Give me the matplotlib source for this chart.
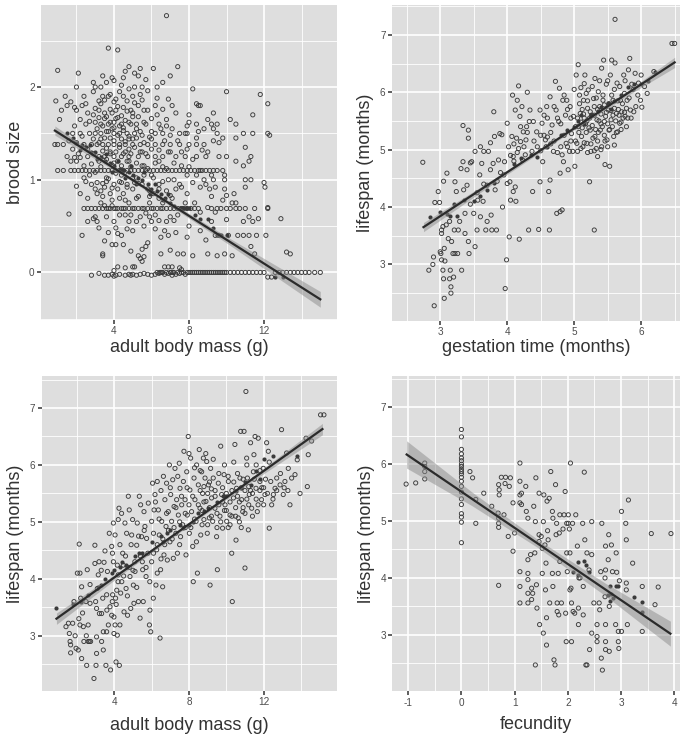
import numpy as np
import matplotlib
matplotlib.use("Agg")
import matplotlib.pyplot as plt

plt.rcParams['font.family'] = ['Liberation Sans', 'DejaVu Sans']

# ---- panel A: brood size vs adult body mass (log scale values) ----
brood_pts = [
    # zero row
    (2.8, -0.03), (3.2, -0.01), (3.5, -0.03), (3.7, -0.03), (3.9, -0.02), (4.0, -0.04), (4.1, -0.03),
    (4.3, -0.02), (4.6, -0.03), (4.8, -0.02), (4.9, -0.03), (5.0, -0.02), (5.2, -0.03), (5.4, -0.02),
    (5.6, -0.01), (5.8, -0.02), (6.0, -0.03), (6.2, -0.02), (6.3, 0.0), (6.4, -0.01), (6.5, 0.0),
    (6.6, 0.0), (6.7, -0.02), (6.8, 0.0), (6.9, -0.01), (7.0, 0.0), (7.1, -0.03), (7.2, 0.0),
    (7.3, -0.02), (7.4, 0.0), (7.5, -0.01), (7.6, 0.0), (7.7, 0.0), (7.8, -0.02), (7.9, 0.0),
    (8.0, 0.0), (8.1, 0.0), (8.2, 0.0), (8.3, 0.0), (8.4, 0.0), (8.5, 0.0), (8.6, 0.0),
    (8.7, 0.0), (8.8, 0.0), (8.9, 0.0), (9.0, 0.0), (9.1, 0.0), (9.2, 0.0), (9.3, 0.0),
    (9.4, 0.0), (9.5, 0.0), (9.6, 0.0), (9.7, 0.0), (9.8, 0.0), (9.9, 0.0), (10.0, 0.0),
    (10.2, 0.0), (10.4, 0.0), (10.6, 0.0), (10.8, 0.0), (11.0, 0.0), (11.2, 0.0), (11.4, 0.0),
    (11.6, 0.0), (11.8, 0.0), (12.0, 0.0), (12.2, -0.05), (12.4, -0.05), (12.6, 0.0), (12.8, 0.0),
    (13.0, 0.0), (13.2, 0.0), (13.4, 0.0), (13.6, 0.0), (13.8, 0.0), (14.0, 0.0), (14.2, 0.0),
    (14.4, 0.0), (14.7, 0.0), (15.0, 0.0), (6.45, 0.0), (6.55, 0.0), (7.05, 0.0), (7.15, 0.0),
    # low values
    (4.6, 0.05), (5.0, 0.06), (5.1, 0.06), (6.7, 0.06), (6.9, 0.06), (7.1, 0.06), (7.5, 0.05),
    (7.6, 0.03), (3.4, 0.18), (3.4, 0.2), (3.9, 0.3), (4.1, 0.3), (3.5, 0.34), (4.2, 0.06),
    (4.0, 0.02), (5.3, 0.18), (5.4, 0.15), (5.5, 0.12), (5.6, 0.17), (2.3, 0.4), (3.7, 0.43),
    (4.2, 0.42), (4.4, 0.4), (4.7, 0.47), (4.5, 0.3), (5.5, 0.25), (5.7, 0.28), (5.8, 0.32),
    (6.5, 0.38), (6.7, 0.45), (6.5, 0.2), (7.0, 0.24), (7.4, 0.2), (7.3, 0.43), (7.7, 0.2),
    (7.9, 0.38), (8.2, 0.18), (9.0, 0.2), (9.5, 0.18), (9.9, 0.2), (10.3, 0.18), (10.1, 0.4),
    (10.6, 0.4), (10.9, 0.4), (11.2, 0.4), (11.6, 0.4), (12.1, 0.4), (11.3, 0.28), (11.5, 0.2),
    (8.9, 0.35), (9.4, 0.4), (9.6, 0.4), (2.9, 0.58), (3.1, 0.55), (2.6, 0.55), (4.0, 0.55),
    (4.8, 0.55), (5.2, 0.55), (5.6, 0.5), (6.0, 0.55), (6.8, 0.55), (7.2, 0.56), (12.9, 0.58),
    (13.2, 0.22), (13.4, 0.2), (1.6, 0.63), (5.0, 0.45), (6.2, 0.47), (4.9, 0.23),
    # row ~0.69
    (2.4, 0.69), (2.6, 0.69), (2.8, 0.69), (3.0, 0.69), (3.2, 0.69), (3.4, 0.69), (3.6, 0.69),
    (3.7, 0.69), (3.8, 0.69), (4.0, 0.69), (4.1, 0.69), (4.2, 0.69), (4.4, 0.69), (4.5, 0.69),
    (4.6, 0.69), (4.8, 0.69), (5.0, 0.69), (5.1, 0.69), (5.3, 0.69), (5.5, 0.69), (5.6, 0.69),
    (5.8, 0.69), (6.0, 0.69), (6.1, 0.69), (6.3, 0.69), (6.5, 0.69), (6.6, 0.69), (6.8, 0.69),
    (7.0, 0.69), (7.2, 0.69), (7.4, 0.69), (7.6, 0.69), (7.7, 0.69), (7.9, 0.69), (8.1, 0.69),
    (8.3, 0.69), (8.5, 0.69), (9.2, 0.69), (9.5, 0.69), (9.7, 0.69), (10.0, 0.69), (10.2, 0.69),
    (10.5, 0.69), (10.7, 0.69), (11.0, 0.69), (11.5, 0.69), (12.2, 0.69),
    (3.0, 0.6), (3.3, 0.75), (3.5, 0.72), (4.3, 0.62), (4.6, 0.78), (5.2, 0.8), (5.7, 0.64),
    (6.2, 0.62), (6.6, 0.75), (7.1, 0.8), (7.8, 0.75), (8.3, 0.75), (8.6, 0.65), (9.0, 0.7),
    (9.4, 0.65), (9.8, 0.78), (10.5, 0.75), (10.9, 0.55), (11.2, 0.6), (11.4, 0.55), (11.7, 0.58),
    (10.0, 0.57), (3.9, 0.78), (4.9, 0.62), (6.4, 0.8), (7.4, 0.62),
    # 0.8 - 1.0
    (2.8, 0.95), (3.0, 0.9), (3.3, 0.88), (3.1, 0.85), (3.5, 0.92), (3.8, 0.85), (4.0, 0.95),
    (4.2, 0.9), (4.5, 0.85), (4.7, 0.95), (5.0, 0.9), (5.3, 0.82), (5.5, 0.95), (5.8, 0.9),
    (6.1, 0.85), (6.4, 0.95), (6.8, 0.88), (7.3, 0.9), (7.6, 0.92), (7.9, 0.85), (8.6, 0.92),
    (9.1, 0.9), (9.4, 0.92), (9.9, 0.9), (10.4, 0.85), (11.0, 0.92), (12.0, 0.97), (12.05, 0.92),
    (8.2, 0.97), (9.2, 0.82), (10.0, 0.83), (10.3, 0.75), (2.0, 0.93), (2.5, 0.98), (3.6, 0.98),
    (4.4, 0.97), (5.1, 0.97), (5.9, 0.82), (6.6, 0.98), (7.0, 0.83), (8.9, 0.95),
    # row ~1.1
    (1.0, 1.1), (1.3, 1.1), (1.7, 1.1), (1.9, 1.1), (2.1, 1.1), (2.3, 1.1), (2.5, 1.1), (2.7, 1.1),
    (2.9, 1.1), (3.1, 1.1), (3.3, 1.1), (3.5, 1.1), (3.7, 1.1), (3.9, 1.1), (4.1, 1.1), (4.3, 1.1),
    (4.5, 1.1), (4.7, 1.1), (4.9, 1.1), (5.1, 1.1), (5.3, 1.1), (5.5, 1.1), (5.7, 1.1), (5.9, 1.1),
    (6.1, 1.1), (6.3, 1.1), (6.5, 1.1), (6.7, 1.1), (6.9, 1.1), (7.1, 1.1), (7.3, 1.1), (7.5, 1.1),
    (7.7, 1.1), (7.9, 1.1), (8.1, 1.1), (8.3, 1.1), (8.5, 1.1), (8.7, 1.1), (8.9, 1.1), (9.1, 1.1),
    (9.3, 1.1), (9.5, 1.1), (9.8, 1.1),
    (2.0, 1.2), (2.4, 1.15), (2.7, 1.05), (3.2, 1.2), (3.6, 1.02), (4.0, 1.18), (4.4, 1.05),
    (4.8, 1.2), (5.2, 1.02), (5.6, 1.15), (6.0, 1.05), (6.4, 1.2), (6.8, 1.12), (7.2, 1.0),
    (7.6, 1.15), (8.0, 1.14), (8.4, 1.05), (8.8, 1.0), (9.3, 1.0), (9.9, 1.0), (10.9, 1.15),
    (11.0, 1.0), (11.3, 1.0), (11.2, 1.2), (11.0, 1.35), (10.5, 1.2), (9.9, 1.05),
    # row ~1.25
    (1.5, 1.25), (1.9, 1.24), (2.2, 1.24), (2.6, 1.25), (3.2, 1.25), (3.5, 1.25), (4.0, 1.25),
    (4.4, 1.25), (4.8, 1.25), (5.3, 1.25), (5.8, 1.25), (6.2, 1.25), (6.6, 1.25), (7.3, 1.25),
    (7.8, 1.25), (8.4, 1.25), (8.9, 1.25), (9.6, 1.25), (2.9, 1.28), (3.8, 1.3), (4.6, 1.3),
    (5.5, 1.3), (6.9, 1.3),
    # row ~1.38
    (0.85, 1.38), (1.3, 1.38), (2.0, 1.4), (2.4, 1.38), (2.8, 1.38), (3.1, 1.38), (3.4, 1.38),
    (3.7, 1.38), (4.0, 1.38), (4.3, 1.38), (4.6, 1.38), (5.0, 1.38), (5.4, 1.38), (5.8, 1.38),
    (6.2, 1.38), (6.6, 1.38), (7.0, 1.38), (7.5, 1.38), (8.0, 1.38), (8.4, 1.38), (8.8, 1.38),
    (9.3, 1.42), (8.7, 1.32), (7.9, 1.33), (3.3, 1.44), (4.8, 1.44), (6.0, 1.44),
    # row ~1.5
    (1.8, 1.5), (2.2, 1.5), (2.7, 1.5), (3.0, 1.5), (3.3, 1.5), (3.6, 1.52), (4.0, 1.5), (4.3, 1.5),
    (4.7, 1.5), (5.1, 1.5), (5.5, 1.48), (6.0, 1.52), (6.6, 1.5), (7.0, 1.48), (7.5, 1.5),
    (7.9, 1.5), (8.5, 1.52), (9.3, 1.55), (9.8, 1.45), (11.4, 1.5), (3.9, 1.55), (4.5, 1.56),
    # row ~1.6
    (2.5, 1.6), (3.0, 1.62), (3.3, 1.6), (3.7, 1.6), (4.0, 1.62), (4.4, 1.6), (4.8, 1.62),
    (5.2, 1.6), (5.6, 1.62), (6.4, 1.6), (6.8, 1.58), (7.9, 1.58), (8.4, 1.6), (9.5, 1.6),
    (10.5, 1.6), (10.2, 1.65), (11.4, 1.7), (3.5, 1.66), (4.2, 1.67), (5.0, 1.68),
    # row ~1.75
    (1.2, 1.75), (1.5, 1.8), (1.9, 1.78), (2.3, 1.8), (2.6, 1.72), (2.9, 1.7), (3.2, 1.75),
    (3.5, 1.72), (3.8, 1.76), (4.1, 1.75), (4.5, 1.78), (4.9, 1.75), (5.3, 1.8), (5.6, 1.75),
    (6.2, 1.8), (6.6, 1.76), (7.1, 1.8), (8.0, 1.7), (8.5, 1.8), (9.2, 1.6), (9.0, 1.65),
    # row ~1.9
    (0.9, 1.85), (1.7, 1.84), (2.4, 1.9), (2.9, 1.95), (3.4, 1.9), (3.8, 1.92), (4.3, 1.95),
    (4.7, 1.85), (5.0, 1.9), (5.4, 1.92), (5.8, 1.96), (6.3, 1.88), (6.9, 1.87), (3.2, 1.85),
    (4.1, 1.87), (2.0, 2.0), (3.6, 2.05), (4.5, 2.1), (5.1, 2.0), (5.5, 2.0),
    # high values and outliers
    (1.0, 2.18), (2.1, 2.15), (3.0, 2.0), (3.4, 2.12), (4.0, 2.07), (4.6, 2.17), (4.8, 2.22),
    (5.1, 2.15), (5.3, 2.12), (5.4, 2.2), (6.1, 2.2), (6.6, 2.05), (7.0, 2.12), (7.4, 2.22),
    (3.7, 2.42), (4.2, 2.4), (6.8, 2.77), (8.2, 1.98), (10.0, 1.95), (11.8, 1.92), (12.2, 1.82),
    (12.2, 1.5), (12.3, 1.48), (8.4, 1.82), (8.6, 1.8), (9.3, 1.72), (10.9, 1.5), (9.6, 1.4),
    (10.0, 1.25), (11.3, 1.25), (10.5, 1.45), (12.2, 0.7), (1.0, 1.38),
]
# scattered values between the rows (dense core of the cloud)
brood_pts_more = [
    (1.6, 1.42), (1.8, 1.33), (1.9, 1.58), (2.1, 1.28), (2.2, 1.65), (2.3, 1.47), (2.4, 1.02),
    (2.5, 1.82), (2.6, 1.33), (2.7, 1.63), (2.8, 1.17), (2.9, 1.44), (3.0, 1.77), (3.0, 1.08),
    (3.1, 1.55), (3.1, 0.97), (3.2, 1.4), (3.2, 1.67), (3.3, 1.14), (3.3, 1.82), (3.4, 1.31),
    (3.4, 1.58), (3.4, 0.96), (3.5, 1.45), (3.5, 1.86), (3.6, 1.22), (3.6, 1.68), (3.6, 1.34),
    (3.7, 1.01), (3.7, 1.52), (3.7, 1.9), (3.8, 1.28), (3.8, 1.62), (3.8, 1.45), (3.9, 1.16),
    (3.9, 1.72), (3.9, 0.91), (4.0, 1.42), (4.0, 1.56), (4.0, 1.84), (4.1, 1.3), (4.1, 1.07),
    (4.1, 1.66), (4.2, 1.48), (4.2, 1.2), (4.2, 1.79), (4.3, 1.35), (4.3, 1.58), (4.3, 0.98),
    (4.4, 1.69), (4.4, 1.44), (4.4, 1.15), (4.5, 1.9), (4.5, 1.28), (4.5, 1.53), (4.6, 1.08),
    (4.6, 1.64), (4.6, 1.41), (4.7, 1.2), (4.7, 1.74), (4.7, 0.92), (4.8, 1.47), (4.8, 1.33),
    (4.8, 1.98), (4.9, 1.6), (4.9, 1.14), (4.9, 1.28), (5.0, 1.72), (5.0, 1.44), (5.0, 1.02),
    (5.1, 1.35), (5.1, 1.83), (5.2, 1.18), (5.2, 1.55), (5.2, 1.45), (5.3, 1.68), (5.3, 0.96),
    (5.4, 1.3), (5.4, 1.52), (5.5, 1.15), (5.5, 1.86), (5.6, 1.4), (5.6, 1.05), (5.7, 1.6),
    (5.7, 1.28), (5.8, 1.75), (5.8, 1.12), (5.9, 1.46), (5.9, 0.88), (6.0, 1.33), (6.0, 1.66),
    (6.1, 1.02), (6.2, 1.5), (6.2, 1.18), (6.3, 1.7), (6.4, 1.32), (6.4, 0.9), (6.5, 1.55),
    (6.6, 1.14), (6.7, 1.42), (6.8, 1.65), (6.9, 1.0), (7.0, 1.3), (7.1, 1.55), (7.2, 1.18),
    (7.3, 1.72), (7.4, 1.42), (7.5, 0.95), (7.6, 1.3), (7.8, 1.5), (7.9, 1.05), (8.0, 1.62),
    (8.2, 1.22), (8.4, 1.45), (8.6, 1.1), (8.8, 1.55), (9.0, 1.3), (9.2, 1.05), (9.5, 1.5),
    (2.0, 1.75), (1.4, 1.9), (1.1, 1.65), (1.7, 1.2), (2.9, 2.05), (3.3, 2.0), (3.9, 2.1),
    (4.4, 2.02), (5.7, 2.08), (6.3, 2.0), (2.2, 0.85), (2.6, 0.8), (3.4, 0.82), (3.9, 0.72),
    (4.3, 0.8), (4.8, 0.75), (5.4, 0.6), (5.9, 0.75), (6.4, 0.56), (7.0, 0.6), (3.2, 0.48),
    (3.6, 0.6), (4.1, 0.48), (4.6, 0.62), (5.9, 0.6), (6.9, 0.4), (8.0, 0.5), (8.6, 0.45),
    (9.2, 0.55),
]
brood_dark = [
    (1.5, 1.5), (2.0, 1.4), (2.3, 1.38), (2.5, 1.35), (2.8, 1.3), (3.0, 1.3), (3.3, 1.25),
    (3.5, 1.2), (3.8, 1.18), (4.0, 1.15), (4.3, 1.12), (4.5, 1.1), (4.8, 1.08), (5.0, 1.05),
    (5.3, 1.02), (5.5, 1.0), (5.8, 0.95), (6.0, 0.9), (6.3, 0.88), (6.5, 0.85), (6.7, 0.8),
    (7.0, 0.75), (7.5, 0.69), (7.6, 0.69), (7.7, 0.69), (7.8, 0.69), (7.9, 0.69), (8.0, 0.7),
    (9.0, 0.58), (9.5, 0.4), (9.7, 0.4), (10.0, 0.4), (12.6, -0.05), (13.0, -0.05),
    (1.8, 1.45), (2.2, 1.32), (2.7, 1.38), (3.1, 1.22), (3.6, 1.28), (3.9, 1.08), (4.2, 1.2),
    (4.6, 1.02), (4.9, 1.15), (5.2, 0.95), (5.6, 1.08), (5.9, 0.85), (6.2, 0.95), (6.6, 0.78),
    (6.9, 0.85), (7.2, 0.72), (8.3, 0.62), (8.6, 0.58), (9.3, 0.48),
]
brood_fit_x = [0.85, 15.0]
brood_fit_y = [1.53, -0.29]
brood_ci_x = [0.85, 4.0, 6.5, 10.0, 15.0]
brood_ci_half = [0.05, 0.022, 0.02, 0.035, 0.085]

# ---- panel B: lifespan vs gestation time ----
gest_pts = [
    (2.74, 4.78), (2.83, 2.9), (2.89, 3.0), (2.9, 3.13), (2.91, 2.28), (2.92, 4.08), (2.97, 4.27),
    (2.99, 4.08), (3.0, 3.22), (3.01, 3.19), (3.02, 3.08), (3.02, 3.54), (3.02, 3.6), (3.04, 3.66),
    (3.05, 4.45), (3.04, 2.9), (3.05, 2.75), (3.06, 2.41), (3.06, 3.28), (3.07, 3.06), (3.09, 3.69),
    (3.1, 4.59), (3.12, 3.45), (3.14, 3.75), (3.15, 2.9), (3.14, 2.75), (3.16, 2.61), (3.16, 2.5),
    (3.17, 3.4), (3.19, 3.19), (3.2, 2.78), (3.21, 3.6), (3.22, 3.19), (3.22, 4.44), (3.24, 4.27),
    (3.26, 3.19), (3.27, 3.6), (3.29, 3.75), (3.32, 2.9), (3.31, 4.67), (3.34, 5.42), (3.34, 4.79),
    (3.37, 3.89), (3.37, 3.54), (3.4, 4.38), (3.4, 4.65), (3.42, 5.34), (3.42, 5.2), (3.42, 3.4),
    (3.43, 3.19), (3.45, 4.77), (3.47, 4.79), (3.5, 3.89), (3.52, 4.97), (3.52, 3.31), (3.55, 3.6),
    (3.56, 4.12), (3.59, 4.56), (3.6, 3.83), (3.6, 5.05), (3.62, 4.76), (3.64, 4.1), (3.65, 4.97),
    (3.68, 3.6), (3.7, 3.75), (3.7, 4.38), (3.72, 4.97), (3.75, 5.12), (3.76, 3.86), (3.77, 3.6),
    (3.79, 4.76), (3.8, 5.66), (3.81, 5.23), (3.82, 4.3), (3.84, 3.6), (3.87, 4.82), (3.89, 5.28),
    (3.92, 5.26), (3.93, 4.0), (3.95, 4.56), (3.96, 4.79), (3.97, 2.58), (3.99, 3.08), (4.0, 5.46),
    (4.0, 4.41), (4.02, 5.05), (4.03, 3.48), (4.04, 4.44), (4.05, 4.12), (4.07, 5.23), (4.08, 5.95),
    (4.09, 4.88), (4.09, 4.27), (4.12, 5.69), (4.12, 4.35), (4.13, 4.1), (4.14, 5.2), (4.15, 5.86),
    (4.17, 6.11), (4.17, 5.02), (4.18, 3.44), (4.19, 5.58), (4.2, 5.14), (4.22, 5.75), (4.23, 4.82),
    (4.24, 5.31), (4.27, 4.91), (4.28, 5.17), (4.29, 5.4), (4.3, 6.0), (4.32, 3.6), (4.33, 5.49),
    (4.34, 5.69), (4.37, 4.97), (4.38, 4.27), (4.39, 5.49), (4.44, 5.31), (4.47, 3.61), (4.49, 4.44),
    (4.49, 5.69), (4.52, 5.46), (4.53, 4.79), (4.55, 5.6), (4.57, 5.17), (4.58, 5.05), (4.59, 5.75),
    (4.62, 4.27), (4.63, 3.6), (4.64, 4.47), (4.64, 5.92), (4.67, 5.43), (4.69, 4.97), (4.72, 6.19),
    (4.73, 5.69), (4.74, 3.89), (4.77, 5.49), (4.78, 6.07), (4.79, 4.59), (4.79, 3.92), (4.82, 3.95),
    (4.82, 4.91), (4.83, 5.86), (4.84, 4.79), (4.87, 5.6), (4.88, 5.11), (4.89, 5.86), (4.91, 4.65),
    (4.93, 4.97), (4.94, 5.75), (4.96, 5.28), (4.98, 4.97), (4.99, 5.58), (5.01, 4.71), (5.03, 6.3),
    (5.04, 5.11), (5.05, 4.97), (5.06, 6.48), (5.06, 5.4), (5.08, 5.8), (5.09, 5.63), (5.1, 6.08),
    (5.11, 5.23), (5.13, 5.05), (5.14, 5.86), (5.15, 5.55), (5.16, 6.3), (5.18, 5.98), (5.19, 5.11),
    (5.2, 5.72), (5.21, 6.04), (5.23, 4.44), (5.24, 5.34), (5.25, 4.97), (5.26, 5.6), (5.29, 5.89),
    (5.3, 3.6), (5.31, 6.24), (5.31, 5.23), (5.33, 5.02), (5.34, 5.52), (5.35, 4.88), (5.36, 6.01),
    (5.38, 5.75), (5.39, 5.34), (5.41, 6.42), (5.41, 5.05), (5.43, 5.86), (5.44, 6.56), (5.45, 5.49),
    (5.46, 4.74), (5.48, 6.14), (5.49, 5.17), (5.51, 5.69), (5.52, 5.34), (5.53, 4.71), (5.54, 6.3),
    (5.55, 5.52), (5.56, 6.56), (5.58, 5.86), (5.59, 5.23), (5.61, 7.27), (5.61, 6.51), (5.63, 5.63),
    (5.64, 6.16), (5.65, 5.31), (5.68, 5.46), (5.69, 5.86), (5.71, 5.66), (5.74, 6.3), (5.75, 5.98),
    (5.76, 5.58), (5.79, 5.86), (5.81, 6.39), (5.83, 6.59), (5.84, 5.69), (5.86, 6.14), (5.89, 5.66),
    (5.91, 6.33), (5.96, 6.16), (5.99, 5.86), (6.01, 5.74), (6.09, 5.98), (6.19, 6.36), (6.46, 6.85),
    (6.5, 6.85),
    (5.02, 5.4), (5.05, 5.55), (5.07, 5.3), (5.1, 5.48), (5.12, 5.38), (5.14, 5.62), (5.17, 5.45),
    (5.19, 5.5), (5.22, 5.38), (5.24, 5.66), (5.27, 5.42), (5.3, 5.6), (5.32, 5.35), (5.35, 5.7),
    (5.37, 5.5), (5.4, 5.62), (5.42, 5.4), (5.45, 5.78), (5.47, 5.58), (5.5, 5.45), (5.52, 5.8),
    (5.55, 5.68), (5.57, 5.4), (5.6, 5.72), (5.62, 5.5), (5.65, 5.85), (5.67, 5.6), (5.7, 5.48),
    (5.72, 5.8), (5.75, 5.65), (5.78, 5.72), (5.8, 5.55), (5.15, 5.12), (5.25, 5.1), (5.35, 5.15),
    (5.45, 5.25), (5.2, 4.95), (5.3, 4.98), (5.4, 5.0), (5.5, 5.05), (5.6, 5.08), (5.1, 5.02),
    (4.95, 5.15), (4.9, 5.05), (4.85, 5.25), (4.8, 5.05), (4.7, 5.15), (4.75, 4.95), (4.6, 5.22),
    (4.65, 5.3), (4.55, 5.25), (4.4, 5.15), (4.45, 5.05), (4.5, 4.98), (4.25, 5.05), (4.15, 4.95),
    (4.1, 4.8), (4.05, 4.9),
]
gest_pts_more = [
    (4.95, 5.55), (5.0, 6.05), (5.02, 5.15), (5.08, 5.95), (5.12, 5.7), (5.15, 6.15), (5.18, 5.3),
    (5.2, 5.85), (5.23, 5.55), (5.27, 6.1), (5.28, 5.2), (5.3, 5.75), (5.33, 5.9), (5.36, 5.3),
    (5.38, 6.2), (5.4, 5.45), (5.43, 5.95), (5.46, 5.15), (5.48, 5.65), (5.5, 6.2), (5.53, 5.35),
    (5.56, 5.95), (5.58, 5.6), (5.6, 6.05), (5.63, 5.3), (5.66, 5.7), (5.68, 6.1), (5.7, 5.35),
    (5.73, 5.55), (5.76, 6.2), (5.78, 5.4), (5.82, 5.9), (5.85, 5.55), (5.88, 6.05), (5.92, 5.75),
    (5.95, 5.95), (6.0, 6.3), (6.05, 6.1), (4.7, 5.75), (4.75, 5.55), (4.8, 5.45), (4.85, 5.95),
    (4.9, 5.7), (4.6, 5.55), (4.65, 5.1), (4.5, 5.25), (4.3, 5.3), (4.2, 5.4), (4.1, 5.1),
    (3.9, 4.6), (3.85, 4.45), (3.75, 4.65), (3.65, 4.4), (3.55, 4.25), (3.45, 4.05), (3.35, 4.3),
]
gest_dark = [
    (2.85, 3.82), (3.0, 3.92), (3.1, 3.88), (3.15, 3.85), (3.25, 3.85), (3.2, 4.05), (3.35, 4.12),
    (3.5, 4.1), (3.6, 4.2), (3.7, 4.3), (3.8, 4.42), (4.1, 4.75), (4.2, 4.85), (4.35, 4.9),
    (4.45, 4.88), (4.6, 5.05), (4.8, 5.25), (4.9, 5.35), (5.0, 5.4), (5.05, 5.5), (5.1, 5.6),
    (5.15, 5.45), (5.25, 5.6), (5.35, 5.68), (5.4, 5.75), (5.5, 5.82), (5.55, 5.7), (5.6, 5.85),
    (5.7, 5.95), (5.8, 6.1), (5.9, 6.15), (6.0, 6.15), (6.1, 6.2), (6.2, 6.35),
]
gest_fit_x = [2.75, 6.5]
gest_fit_y = [3.65, 6.52]
gest_ci_x = [2.75, 3.8, 4.9, 5.8, 6.5]
gest_ci_half = [0.08, 0.04, 0.025, 0.04, 0.09]

# ---- panel C: lifespan vs adult body mass ----
mass_pts = [
    (1.41, 3.16), (1.54, 3.22), (1.59, 3.04), (1.63, 2.9), (1.66, 2.84), (1.66, 2.7), (1.77, 3.22),
    (1.84, 3.6), (1.95, 2.78), (2.02, 4.1), (2.07, 2.75), (2.12, 4.61), (2.16, 4.1), (2.16, 3.19),
    (2.2, 3.66), (2.25, 3.86), (2.25, 2.6), (2.34, 3.16), (2.37, 2.9), (2.48, 3.6), (2.52, 2.48),
    (2.55, 4.16), (2.6, 2.9), (2.6, 3.19), (2.66, 2.9), (2.7, 3.57), (2.73, 2.9), (2.91, 2.25),
    (2.96, 4.59), (2.96, 4.27), (3.02, 2.48), (3.05, 2.98), (3.05, 3.48), (3.05, 2.69), (3.09, 3.83),
    (3.14, 4.07), (3.18, 4.3), (3.2, 3.39), (3.32, 2.9), (3.32, 3.39), (3.38, 3.66), (3.41, 2.75),
    (3.41, 3.07), (3.45, 4.29), (3.5, 4.49), (3.55, 2.48), (3.59, 3.72), (3.59, 3.07), (3.63, 4.13),
    (3.68, 3.19), (3.73, 4.8), (3.77, 3.51), (3.8, 2.4), (3.86, 4.57), (3.86, 3.36), (3.89, 3.6),
    (3.91, 3.72), (3.95, 4.98), (3.95, 4.3), (3.98, 3.33), (3.98, 3.04), (4.04, 4.77), (4.04, 3.19),
    (4.07, 3.66), (4.09, 2.54), (4.13, 3.8), (4.16, 3.01), (4.16, 4.24), (4.21, 4.07), (4.21, 5.04),
    (4.25, 5.24), (4.27, 2.48), (4.3, 3.19), (4.34, 3.75), (4.39, 5.15), (4.45, 4.45), (4.48, 4.24),
    (4.52, 3.42), (4.57, 4.98), (4.63, 3.83), (4.66, 4.8), (4.71, 3.36), (4.75, 5.45), (4.8, 5.21),
    (4.84, 4.04), (4.88, 3.48), (4.93, 4.77), (4.98, 5.04), (5.02, 3.89), (5.05, 3.57), (5.11, 4.13),
    (5.2, 4.59), (5.23, 4.98), (5.29, 3.6), (5.34, 5.45), (5.38, 3.31), (5.41, 5.3), (5.46, 4.74),
    (5.52, 4.16), (5.55, 3.6), (5.59, 5.18), (5.64, 4.92), (5.7, 4.04), (5.73, 4.71), (5.82, 5.33),
    (5.88, 3.19), (5.91, 3.45), (5.95, 3.07), (6.0, 5.01), (6.05, 5.68), (6.09, 3.66), (6.13, 5.21),
    (6.18, 5.48), (6.23, 3.89), (6.27, 4.51), (6.3, 5.71), (6.36, 5.21), (6.41, 4.77), (6.45, 2.96),
    (6.48, 4.16), (6.54, 5.01), (6.59, 3.86), (6.63, 5.8), (6.66, 4.42), (6.71, 5.39), (6.77, 4.92),
    (6.8, 5.68), (6.84, 4.33), (6.89, 5.18), (6.95, 6.0), (6.98, 4.65), (7.02, 5.48), (7.07, 5.01),
    (7.13, 5.74), (7.16, 4.36), (7.2, 5.27), (7.25, 5.94), (7.3, 4.8), (7.34, 5.39), (7.38, 4.45),
    (7.43, 5.12), (7.48, 6.03), (7.52, 5.59), (7.55, 4.74), (7.61, 5.3), (7.66, 4.95), (7.7, 5.71),
    (7.73, 6.24), (7.79, 5.39), (7.84, 4.42), (7.88, 5.88), (7.91, 5.12), (7.96, 6.5), (8.02, 4.8),
    (8.05, 5.56), (8.09, 6.12), (8.14, 5.18), (8.2, 4.57), (8.23, 3.95), (8.27, 5.77), (8.32, 5.39),
    (8.38, 5.01), (8.41, 6.0), (8.45, 4.1), (8.5, 5.65), (8.55, 6.27), (8.59, 5.24), (8.63, 4.77),
    (8.68, 5.88), (8.73, 5.5), (8.77, 6.12), (8.8, 5.04), (8.86, 5.77), (8.91, 5.36), (8.95, 6.06),
    (8.98, 4.8), (9.04, 5.65), (9.09, 5.07), (9.13, 3.89), (9.16, 5.94), (9.21, 5.42), (9.27, 5.01),
    (9.3, 5.77), (9.39, 5.24), (9.48, 4.74), (9.52, 4.16), (9.57, 5.68), (9.66, 5.1), (9.7, 6.33),
    (9.75, 5.48), (9.8, 4.89), (9.88, 5.83), (9.93, 5.3), (10.02, 5.01), (10.11, 5.71), (10.2, 5.12),
    (10.29, 4.45), (10.32, 3.6), (10.38, 5.42), (10.46, 6.36), (10.52, 4.68), (10.55, 5.59),
    (10.64, 5.07), (10.73, 5.77), (10.77, 6.59), (10.82, 5.39), (10.88, 5.18), (10.95, 6.59),
    (11.0, 4.19), (11.05, 7.29), (11.09, 6.12), (11.13, 5.77), (11.18, 4.86), (11.23, 5.48),
    (11.3, 6.39), (11.36, 5.24), (11.45, 5.88), (11.48, 6.18), (11.54, 6.5), (11.59, 5.59),
    (11.66, 5.18), (11.71, 6.47), (11.8, 5.71), (11.89, 5.39), (11.98, 5.94), (12.07, 5.48),
    (12.16, 6.39), (12.25, 6.24), (12.3, 4.89), (12.38, 5.71), (12.43, 5.3), (12.52, 5.48),
    (12.61, 5.59), (12.7, 5.77), (12.88, 5.65), (12.96, 6.62), (13.05, 5.48), (13.14, 5.71),
    (13.23, 6.21), (13.32, 5.94), (13.41, 5.3), (13.5, 5.77), (13.68, 5.83), (13.8, 6.09),
    (13.95, 5.5), (14.27, 6.47), (14.34, 5.62), (14.39, 6.18), (14.57, 6.42), (15.05, 6.88),
    (15.23, 6.88),
    (8.6, 5.55), (8.8, 5.62), (9.0, 5.5), (9.2, 5.58), (9.4, 5.45), (9.6, 5.3), (9.8, 5.6),
    (10.0, 5.5), (10.2, 5.35), (10.4, 5.7), (10.6, 5.45), (10.8, 5.6), (11.0, 5.55), (11.2, 5.62),
    (11.4, 5.5), (11.6, 5.4), (11.8, 5.55), (12.0, 5.6), (11.1, 5.4), (10.9, 5.25), (10.7, 5.0),
    (10.5, 5.25), (10.3, 5.1), (10.1, 4.9), (9.9, 5.2), (9.5, 5.15), (9.1, 5.25), (8.7, 5.2),
    (8.3, 5.05), (8.0, 5.3), (7.8, 5.15), (7.5, 5.0), (7.2, 4.9), (6.9, 4.85), (6.6, 4.7),
    (6.3, 4.6), (6.0, 4.3), (5.7, 4.2), (5.4, 4.4), (5.1, 4.3), (4.8, 4.2), (4.5, 4.05), (4.2, 3.95),
]
mass_pts_more = [
    (6.1, 4.8), (6.2, 5.35), (6.4, 5.05), (6.5, 5.55), (6.7, 4.6), (6.8, 5.15), (7.0, 5.6),
    (7.1, 4.7), (7.3, 5.25), (7.4, 5.8), (7.5, 4.6), (7.6, 5.45), (7.8, 4.9), (7.9, 5.6),
    (8.0, 6.2), (8.1, 4.9), (8.2, 5.45), (8.3, 5.95), (8.4, 4.65), (8.5, 5.3), (8.6, 5.9),
    (8.7, 4.95), (8.8, 5.35), (8.9, 6.2), (9.0, 4.95), (9.1, 5.7), (9.2, 5.1), (9.3, 6.1),
    (9.4, 5.55), (9.5, 4.9), (9.6, 5.85), (9.7, 5.0), (9.8, 5.35), (9.9, 6.0), (10.0, 5.2),
    (10.1, 5.8), (10.2, 4.95), (10.3, 5.55), (10.4, 6.05), (10.5, 5.1), (10.6, 5.85), (10.7, 5.35),
    (10.8, 4.9), (10.9, 5.75), (11.0, 5.15), (11.1, 6.0), (11.2, 5.3), (11.3, 5.55), (11.4, 5.1),
    (11.5, 5.75), (11.6, 6.0), (11.7, 5.3), (11.8, 5.9), (11.9, 5.6), (12.0, 5.3), (12.1, 5.75),
    (12.2, 5.5), (12.3, 6.05), (12.5, 5.4), (12.7, 5.55), (12.9, 5.85), (13.1, 5.6), (13.3, 5.55),
    (3.0, 3.6), (3.3, 4.15), (3.6, 3.45), (3.9, 4.45), (4.1, 3.55), (4.3, 4.6), (4.4, 3.95),
    (4.6, 4.4), (4.7, 3.7), (4.9, 4.6), (5.0, 4.15), (5.2, 3.85), (5.3, 4.75), (5.5, 4.3),
    (5.6, 4.85), (5.8, 4.45), (5.9, 3.95), (6.1, 4.45), (6.3, 4.1), (6.5, 4.35), (2.3, 3.4),
    (2.7, 3.9), (2.1, 3.3), (1.9, 3.0), (2.5, 3.0),
]
mass_dark = [
    (0.88, 3.48), (1.8, 3.55), (2.2, 3.6), (2.6, 3.72), (3.1, 3.85), (3.3, 3.9), (3.5, 4.0),
    (3.9, 4.1), (4.3, 4.2), (4.6, 4.25), (4.7, 4.2), (5.1, 4.4), (5.5, 4.45), (6.0, 4.65),
    (6.5, 4.75), (6.6, 4.65), (7.0, 4.85), (7.5, 4.95), (8.0, 4.95), (8.2, 5.0), (8.5, 5.15),
    (9.0, 5.25), (9.5, 5.35), (10.0, 5.45), (10.5, 5.55), (11.0, 5.7), (11.3, 5.65), (11.6, 5.9),
    (12.0, 6.1), (12.5, 6.15), (13.8, 6.15), (4.0, 4.15), (4.4, 4.3), (5.3, 4.45), (6.8, 4.8),
    (7.7, 4.9), (8.8, 5.2), (9.8, 5.45), (10.8, 5.6), (11.8, 5.75),
]
mass_fit_x = [0.9, 15.15]
mass_fit_y = [3.3, 6.63]
mass_ci_x = [0.9, 4.5, 8.0, 11.5, 15.15]
mass_ci_half = [0.1, 0.04, 0.025, 0.04, 0.1]

# ---- panel D: lifespan vs fecundity ----
fec_pts = [
    (-1.04, 5.65), (-0.86, 5.67), (-0.69, 6.02), (-0.69, 5.96), (-0.69, 5.87), (-0.69, 5.74),
    (0.0, 6.61), (0.0, 6.48), (0.0, 6.26), (0.0, 6.18), (0.0, 6.11), (0.0, 6.06), (0.0, 6.0),
    (0.0, 5.96), (0.0, 5.91), (0.0, 5.87), (0.0, 5.83), (0.0, 5.77), (0.0, 5.7), (0.0, 5.61),
    (0.0, 5.51), (0.0, 5.39), (0.0, 5.29), (0.0, 5.13), (0.0, 5.07), (0.0, 4.98), (0.0, 4.62),
    (0.16, 5.87), (0.21, 5.76), (0.27, 5.38), (0.27, 4.96), (0.42, 5.49), (0.57, 5.26), (0.69, 5.14),
    (0.7, 5.05), (0.7, 4.96), (0.7, 4.89), (0.7, 5.64), (0.71, 5.55), (0.71, 5.46), (0.7, 3.87),
    (0.75, 5.77), (0.8, 5.11), (0.82, 5.66), (0.83, 5.77), (0.88, 4.73), (0.9, 5.61), (0.92, 5.76),
    (0.97, 5.32), (0.97, 4.47), (1.0, 4.79), (1.1, 6.02), (1.1, 5.7), (1.1, 5.46), (1.1, 5.32),
    (1.1, 4.11), (1.1, 3.85), (1.1, 3.56), (1.13, 5.49), (1.13, 5.29), (1.21, 5.61), (1.22, 5.17),
    (1.25, 5.05), (1.25, 4.32), (1.25, 4.08), (1.25, 3.97), (1.25, 3.73), (1.25, 3.56), (1.3, 4.41),
    (1.32, 3.82), (1.32, 3.62), (1.34, 3.73), (1.36, 5.26), (1.38, 4.44), (1.39, 4.99), (1.39, 2.47),
    (1.4, 5.76), (1.41, 3.88), (1.42, 3.47), (1.46, 4.76), (1.46, 5.49), (1.46, 4.64), (1.47, 3.18),
    (1.5, 4.73), (1.52, 4.52), (1.52, 4.08), (1.54, 4.99), (1.54, 3.03), (1.55, 5.46), (1.57, 4.58),
    (1.58, 3.79), (1.59, 4.26), (1.6, 3.3), (1.6, 2.82), (1.61, 5.35), (1.62, 4.83), (1.63, 4.67),
    (1.65, 5.4), (1.66, 3.56), (1.68, 5.87), (1.71, 5.17), (1.71, 4.08), (1.72, 5.05), (1.72, 3.85),
    (1.74, 2.56), (1.76, 2.47), (1.77, 5.64), (1.78, 4.76), (1.79, 4.96), (1.8, 3.56), (1.8, 3.41),
    (1.82, 4.08), (1.83, 3.35), (1.84, 4.79), (1.85, 5.11), (1.85, 4.29), (1.88, 3.56), (1.91, 4.86),
    (1.93, 5.11), (1.95, 5.52), (1.96, 3.38), (1.97, 2.88), (1.98, 4.96), (1.98, 4.44), (1.99, 4.11),
    (2.01, 5.11), (2.01, 4.96), (2.03, 4.86), (2.04, 4.44), (2.04, 3.79), (2.05, 6.02), (2.06, 3.82),
    (2.07, 3.56), (2.07, 2.88), (2.09, 4.96), (2.1, 3.41), (2.13, 3.38), (2.15, 5.11), (2.18, 4.56),
    (2.2, 3.47), (2.2, 3.18), (2.21, 4.0), (2.23, 4.0), (2.28, 4.96), (2.29, 3.85), (2.29, 3.35),
    (2.31, 5.86), (2.32, 4.67), (2.34, 2.47), (2.36, 2.47), (2.36, 4.44), (2.4, 4.14), (2.41, 2.74),
    (2.45, 4.99), (2.45, 4.41), (2.45, 3.03), (2.49, 3.56), (2.55, 3.18), (2.55, 2.88), (2.55, 2.97),
    (2.59, 3.56), (2.6, 3.44), (2.62, 4.11), (2.63, 2.59), (2.65, 2.38), (2.64, 4.96), (2.7, 3.67),
    (2.7, 4.0), (2.71, 4.14), (2.71, 4.56), (2.71, 2.88), (2.71, 3.18), (2.71, 2.74), (2.76, 4.32),
    (2.77, 4.76), (2.78, 2.71), (2.78, 3.5), (2.82, 4.58), (2.84, 4.11), (2.9, 3.18), (2.91, 4.44),
    (2.92, 4.1), (2.95, 2.88), (2.95, 3.06), (2.96, 2.76), (2.97, 3.95), (3.01, 3.06), (3.01, 5.17),
    (3.09, 4.96), (3.1, 3.79), (3.1, 3.91), (3.1, 4.67), (3.12, 3.18), (3.14, 5.37), (3.22, 4.26),
    (3.4, 3.85), (3.4, 3.06), (3.57, 4.78), (3.64, 3.53), (3.7, 3.84), (3.94, 4.78),
]
fec_dark = [
    (2.1, 4.1), (2.2, 4.28), (2.2, 4.05), (2.3, 4.3), (2.35, 4.22), (2.4, 4.1), (2.75, 3.7),
    (2.8, 3.85), (2.8, 3.6), (2.82, 3.72), (2.85, 3.65), (2.9, 3.85), (2.95, 3.85), (3.25, 3.67),
    (3.4, 3.58), (3.4, 3.4),
]
fec_fit_x = [-1.03, 3.93]
fec_fit_y = [6.17, 3.02]
fec_ci_x = [-1.03, 0.2, 1.45, 2.7, 3.93]
fec_ci_half = [0.24, 0.12, 0.07, 0.11, 0.22]

panels = [
    dict(pts=brood_pts + brood_pts_more, dark=brood_dark, fx=brood_fit_x, fy=brood_fit_y,
         cx=brood_ci_x, ch=brood_ci_half,
         xlabel='adult body mass (g)', ylabel='brood size', box=(41, 5, 337, 320),
         xlim=(0.11, 15.89), ylim=(-0.513, 2.885),
         xmaj=[4, 8, 12], xmin=[2, 6, 10, 14], ymaj=[0, 1, 2], ymin=[-0.5, 0.5, 1.5, 2.5], xlab_off=28),
    dict(pts=gest_pts + gest_pts_more, dark=gest_dark, fx=gest_fit_x, fy=gest_fit_y,
         cx=gest_ci_x, ch=gest_ci_half,
         xlabel='gestation time (months)', ylabel='lifespan (months)', box=(392, 5, 680, 320.7),
         xlim=(2.28, 6.58), ylim=(2.02, 7.52),
         xmaj=[3, 4, 5, 6], xmin=[2.5, 3.5, 4.5, 5.5, 6.5], ymaj=[3, 4, 5, 6, 7],
         ymin=[2.5, 3.5, 4.5, 5.5, 6.5, 7.5], xlab_off=27),
    dict(pts=mass_pts + mass_pts_more, dark=mass_dark, fx=mass_fit_x, fy=mass_fit_y,
         cx=mass_ci_x, ch=mass_ci_half,
         xlabel='adult body mass (g)', ylabel='lifespan (months)', box=(41.7, 376.3, 337, 691),
         xlim=(0.11, 15.93), ylim=(2.03, 7.557),
         xmaj=[4, 8, 12], xmin=[2, 6, 10, 14], ymaj=[3, 4, 5, 6, 7],
         ymin=[2.5, 3.5, 4.5, 5.5, 6.5, 7.5], xlab_off=34),
    dict(pts=fec_pts, dark=fec_dark, fx=fec_fit_x, fy=fec_fit_y, cx=fec_ci_x, ch=fec_ci_half,
         xlabel='fecundity', ylabel='lifespan (months)', box=(392.3, 376.3, 680, 691.3),
         xlim=(-1.30, 4.11), ylim=(2.007, 7.545),
         xmaj=[-1, 0, 1, 2, 3, 4], xmin=[-0.5, 0.5, 1.5, 2.5, 3.5], ymaj=[3, 4, 5, 6, 7],
         ymin=[2.5, 3.5, 4.5, 5.5, 6.5, 7.5], xlab_off=33),
]

W, H = 680, 736
fig = plt.figure(figsize=(W / 100, H / 100), dpi=100)
fig.patch.set_facecolor('white')

for p in panels:
    l, t, r, b = p['box']
    ax = fig.add_axes([l / W, 1 - b / H, (r - l) / W, (b - t) / H])
    ax.set_facecolor('#DEDEDE')
    for s in ax.spines.values():
        s.set_visible(False)
    ax.set_xlim(*p['xlim'])
    ax.set_ylim(*p['ylim'])

    # grid
    for v in p['xmin']:
        ax.axvline(v, color='white', lw=0.6, zorder=0.5)
    for v in p['ymin']:
        ax.axhline(v, color='white', lw=0.6, zorder=0.5)
    for v in p['xmaj']:
        ax.axvline(v, color='white', lw=1.2, zorder=0.6)
    for v in p['ymaj']:
        ax.axhline(v, color='white', lw=1.2, zorder=0.6)

    ax.set_xticks(p['xmaj'])
    ax.set_yticks(p['ymaj'])
    ax.set_xticklabels([str(v) for v in p['xmaj']])
    ax.set_yticklabels([str(v) for v in p['ymaj']])
    ax.tick_params(length=2.8, width=1.1, color='#333333', labelsize=7.2,
                   labelcolor='#4D4D4D', pad=1.8)

    pts = np.array(p['pts'])
    ax.scatter(pts[:, 0], pts[:, 1], s=9, facecolors='none', edgecolors='#3a3a3a',
               linewidths=0.65, zorder=2)
    dk = np.array(p['dark'])
    ax.scatter(dk[:, 0], dk[:, 1], s=9, color='#3a3a3a', linewidths=0, zorder=2.5)

    cx = np.array(p['cx'])
    ch = np.array(p['ch'])
    slope = (p['fy'][1] - p['fy'][0]) / (p['fx'][1] - p['fx'][0])
    cy = p['fy'][0] + slope * (cx - p['fx'][0])
    ax.fill_between(cx, cy - ch, cy + ch, color='#8c8c8c', alpha=0.5, lw=0, zorder=3)
    ax.plot(p['fx'], p['fy'], color='#2b2b2b', lw=1.6, zorder=4)

    ax.set_xlabel(p['xlabel'], fontsize=13, color='#333333', va='center')
    ax.xaxis.set_label_coords(0.5, -p['xlab_off'] / (b - t))
    ax.set_ylabel(p['ylabel'], fontsize=13, color='#333333', va='center')
    ax.yaxis.set_label_coords(-26 / (r - l), 0.5)

fig.savefig('out.png', dpi=100)
